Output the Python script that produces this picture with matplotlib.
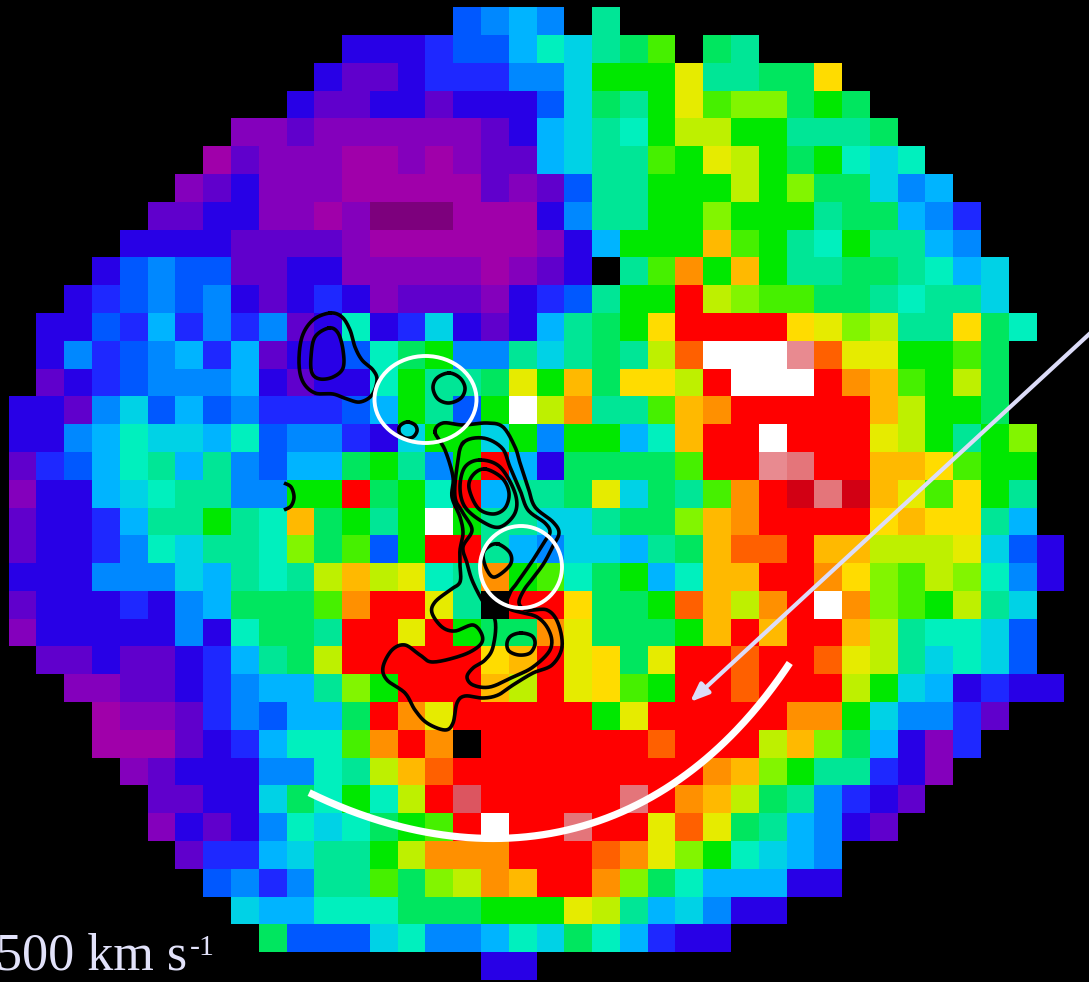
import numpy as np
import matplotlib
matplotlib.use("Agg")
import matplotlib.pyplot as plt
from matplotlib.colors import ListedColormap
from matplotlib.patches import Ellipse

# velocity-map cells, one letter per spaxel (see palette below); '.' = no data
rows = [
 "................bac" + "a.s................",
 "............IIIBbbc" + "tCsgl.gs...........",
 "...........IVVIBBBa" + "aCGGGYssggu........",
 "..........IVVIIVIII" + "bCgsGYlLLgGg.......",
 "........ppVppppppVI" + "cCstGyyGGsssg......",
 ".......PVpppPPpPpVV" + "cCsslGYyGgGtCt.....",
 "......pVIpppPPPPPVp" + "VbssGGGyGLggCac....",
 ".....VVIIppPpMMMPPP" + "IassGGLGGGsggcaB...",
 "....IIIIVVVVpPPPPPP" + "pIcGGGolGstGssca...",
 "...IbabbVVIIpppppPp" + "VIKslOGoGssggstcC..",
 "..IBbabaIVIBIpVVVpI" + "BbsGGRyLllggstssC..",
 ".IIbBcBaBaVItIBCIVI" + "csgGuRRRRuYLyssugt.",
 ".IaBbacBcVIIbtgGaas" + "CsgsynWWWfnYYGGlg..",
 ".VIBbaaacIVIItGssgY" + "GoguuyRWWWROolGyg..",
 "IIVaCbcbaBBBbcGsbGW" + "yOssloORRRRRoyGGg..",
 "IIactCCctbaaBICGGCG" + "aGGctoRRWRRRYyGsGL.",
 "VBbctscsabccgGsaGRc" + "IgggglRRfERRooulGG.",
 "pIIcCtssaaGGRgGtRcs" + "sgYCgslORdEdoYluGs.",
 "VIIBcssGstogGsGWGss" + "CCsggLoORRRRuouusc.",
 "VIIBatCsstLglbGRRsc" + "aCCcsgonnRooyyyYCbI",
 "IIIaaaCcstsyoyYtsOG" + "ltgGctooRROuLlyLtaI",
 "VIIIBIacggglORRYsKR" + "RuggGnoyORWOLlGysC.",
 "pIIIIIaItggsRRYRGgg" + "OYgggGoRoRRoysttCb.",
 ".VVIVVIBcsgyRRRRRuo" + "RYugYRRnRRnYysCtCb.",
 "..ppVVIBaccsLGRRRoy" + "RYulGRRnRRRyGCcIBII",
 "...PppVBabccgROYRRR" + "RRGYRRRRROOGCaaBV..",
 "...PPPVIBcttlOROKRR" + "RRRRnRRRyoLgcIpB...",
 "....pVIIIaatsyonRRR" + "RRRRRROoLGssBIp....",
 ".....VVIICgtGtyReRR" + "RRREROoygsaBIV.....",
 ".....pIVIatCtgGlRWR" + "RERRYnYgscaIV......",
 "......VBBcCssGyOOOR" + "RRnOYLGtCca........",
 ".......baBasslgLyOo" + "RROLgtcccII........",
 "........CcctttgggGG" + "GYyscCaII..........",
 ".........gbbbCtaact" + "CgtcBII............",
 ".................II" + "...................",
]

palette = {
 "M": "#7d007d", "P": "#a000aa", "p": "#8400bc", "V": "#6000cc", "I": "#2800e6",
 "B": "#1e28ff", "b": "#0058ff", "a": "#0088ff", "c": "#00b4ff", "C": "#00d2e6",
 "t": "#00f0be", "s": "#00e696", "g": "#00e65f", "G": "#00e800", "l": "#46f000",
 "L": "#82f500", "y": "#bef000", "Y": "#e6eb00", "u": "#ffdc00", "o": "#ffb900",
 "O": "#ff9000", "n": "#ff6000", "R": "#ff0000", "d": "#d20014", "e": "#dc5560",
 "E": "#e4757a", "f": "#e88a90", "W": "#ffffff", "K": "#000000",
}
keys = list(palette)

contour_a_outer = [(330,313),(342,317),(350,330),(355,347),(362,360),(373,370),(377,380),(372,395),
                   (360,402),(347,399),(333,394),(315,393),(303,382),(299,363),(302,337),(313,320)]
contour_a_inner = [(329,328),(338,333),(343,350),(343,368),(333,377),(320,379),(312,373),(311,357),(315,337)]
contour_d = [(435,432),(443,423),(463,425),(487,423),(503,427),(515,447),(520,463),(528,487),(535,507),
             (553,522),(559,533),(553,546),(544,563),(533,578),(524,590),(519,603),(527,610),(547,610),
             (558,623),(562,647),(552,665),(533,673),(513,685),(498,695),(483,698),(465,696),(457,703),
             (453,723),(445,730),(427,723),(415,710),(405,693),(387,680),(383,667),(392,650),(405,645),
             (420,655),(433,662),(463,655),(480,645),(482,635),(473,625),(455,631),(442,627),(432,613),
             (435,602),(450,590),(460,582),(460,565),(460,550),(463,533),(460,517),(452,497),(453,477),(445,450)]
contour_e = [(463,443),(483,438),(502,448),(510,467),(520,490),(528,510),(545,523),(550,532),(545,541),
             (533,560),(517,583),(510,593),(508,608),(537,617),(550,633),(550,650),(533,667),(513,677),
             (490,687),(473,685),(467,677),(473,668),(485,660),(493,647),(495,620),(482,600),(472,580),
             (467,563),(463,547),(472,530),(463,513),(455,497),(457,467)]
contour_f = [(480,460),(500,467),(515,493),(515,513),(500,527),(483,522),(465,507),(460,487),(465,467)]
contour_g = [(485,469),(502,478),(509,493),(505,508),(493,514),(478,508),(469,488),(473,475)]
contour_h = [(498,544),(510,553),(510,565),(495,577),(487,570),(483,555),(488,547)]
contour_i = [(521,633),(532,636),(535,644),(530,653),(519,655),(509,651),(507,643),(511,636)]
contour_b = [(449,373),(460,378),(465,388),(461,398),(449,403),(438,399),(433,388),(437,378)]
contour_c = [(408,422),(415,425),(417,431),(413,437),(406,438),(400,434),(399,428),(402,424)]
arc_left = [(284,483),(291,487),(294,497),(291,506),(284,510)]
white_arc = [(309,792),(350,812),(400,826),(450,835),(487,838),(545,835),(580,827),(632,808),(684,775),
             (719,748),(754,710),(790,663)]


def smooth(points, closed=True, n=14):
    p = np.array(points, dtype=float)
    if closed:
        p = np.vstack([p[-1], p, p[0], p[1]])
    else:
        p = np.vstack([p[0], p, p[-1]])
    out = []
    t = np.linspace(0, 1, n, endpoint=False)[:, None]
    for i in range(1, len(p) - 2):
        a, b, c, d = p[i - 1], p[i], p[i + 1], p[i + 2]
        out.append(0.5 * (2 * b + (c - a) * t + (2 * a - 5 * b + 4 * c - d) * t ** 2 + (3 * b - a - 3 * c + d) * t ** 3))
    out = np.vstack(out + [p[-2][None, :]])
    return out[:, 0], out[:, 1]


def fitted_curve(points, deg=4, n=200):
    p = np.array(points, dtype=float)
    s = np.r_[0, np.cumsum(np.hypot(*np.diff(p, axis=0).T))]
    s /= s[-1]
    u = np.linspace(0, 1, n)
    return np.polyval(np.polyfit(s, p[:, 0], deg), u), np.polyval(np.polyfit(s, p[:, 1], deg), u)


fig = plt.figure(figsize=(10.89, 9.82), dpi=100, facecolor="black")
ax = fig.add_axes([0, 0, 1, 1], facecolor="black")

cell_w, cell_h = 27.78, 27.79
x_edges = 8.7 + cell_w * np.arange(len(rows[0]) + 1)
y_edges = 7.3 + cell_h * np.arange(len(rows) + 1)
grid = np.ma.masked_less(np.array([[keys.index(ch) if ch != "." else -1 for ch in r] for r in rows], dtype=float), 0)
cmap = ListedColormap([palette[k] for k in keys])
ax.pcolormesh(x_edges, y_edges, grid, cmap=cmap, vmin=-0.5, vmax=len(keys) - 0.5,
              shading="flat", antialiased=False, linewidth=0, zorder=1)

lw_black = 2.6
for c in (contour_a_outer, contour_a_inner, contour_d, contour_e, contour_f, contour_g,
          contour_h, contour_i, contour_b, contour_c):
    xs, ys = smooth(c)
    ax.plot(xs, ys, color="black", lw=lw_black, zorder=3, solid_joinstyle="round")
xs, ys = smooth(arc_left, closed=False)
ax.plot(xs, ys, color="black", lw=lw_black, zorder=3, solid_capstyle="butt")

ax.add_patch(Ellipse((425.5, 399.5), 102, 87, fill=False, ec="white", lw=2.8, zorder=4))
ax.add_patch(Ellipse((521, 567), 82, 82, fill=False, ec="white", lw=2.8, zorder=4))
xs, ys = fitted_curve(white_arc)
ax.plot(xs, ys, color="white", lw=5.2, zorder=4, solid_capstyle="butt")

ax.annotate("", xy=(690, 702), xytext=(1098, 326),
            arrowprops=dict(arrowstyle="-|>,head_length=0.55,head_width=0.22", color="#dcdcf8", lw=3.0,
                            mutation_scale=20, shrinkA=0, shrinkB=0), zorder=5)

ax.text(-4, 970, "500 km s", color="#e2e2fa", fontsize=37.5, family="Liberation Serif", va="baseline", ha="left", zorder=6)
ax.text(190, 955, "-1", color="#e2e2fa", fontsize=21.5, family="Liberation Serif", va="baseline", ha="left", zorder=6)

ax.set_xlim(0, 1089)
ax.set_ylim(982, 0)
ax.axis("off")
fig.savefig("out.png", dpi=100, facecolor="black")
